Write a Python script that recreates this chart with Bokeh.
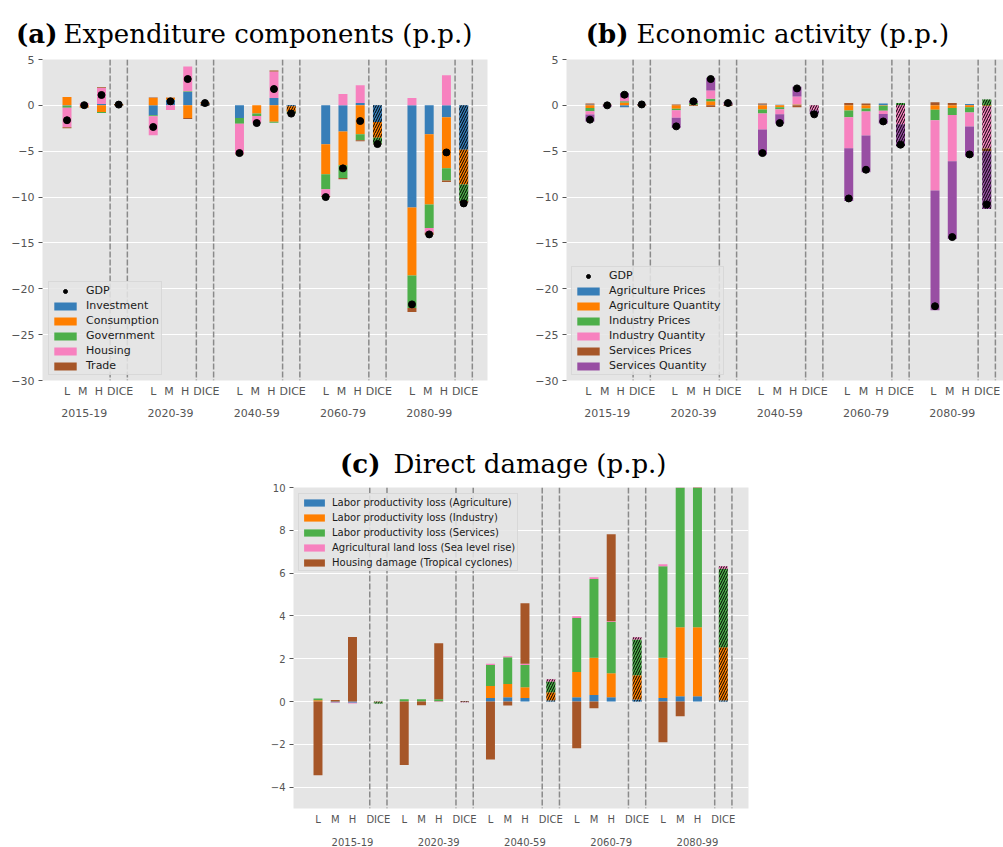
from bokeh.plotting import figure
from bokeh.models import FixedTicker, LinearAxis, Span, Legend, LegendItem, Range1d
from bokeh.core.properties import value
from bokeh.layouts import column, row
from bokeh.embed import file_html
from bokeh.resources import INLINE

# ---------------- data ----------------
periods = ["2015-19", "2020-39", "2040-59", "2060-79", "2080-99"]
scenarios = ["L", "M", "H", "DICE"]
panel_tags = ["(a)", "(b)", "(c)"]
panel_titles = ["Expenditure components (p.p.)", "Economic activity (p.p.)", "Direct damage (p.p.)"]

# (a) Expenditure components, per period: L, M, H, DICE
exp_names = ["Investment", "Consumption", "Government", "Housing", "Trade"]
exp_investment = [-0.05, 0.0, 0.15, 0.05, -1.09, 0.62, 1.45, 0.15, -1.38, 0.0, 0.8, -0.1,
                  -4.25, -2.84, 0.25, -1.82, -11.13, -3.16, -1.31, -4.84]
exp_consumption = [0.9, -0.2, -0.73, 0.1, 0.8, 0.2, -1.38, 0.15, 0.0, -0.9, -1.8, -0.6,
                   -3.27, -3.7, -3.16, -1.71, -7.41, -7.64, -5.56, -3.78]
exp_government = [-0.2, 0.0, -0.1, 0.0, -0.1, 0.0, 0.1, 0.0, -0.62, -0.25, -0.1, -0.2,
                  -1.64, -1.38, -0.65, -0.65, -3.56, -2.58, -1.31, -1.82]
exp_housing = [-2.15, 0.25, 1.75, 0.0, -2.07, -0.5, 2.7, 0.05, -3.27, -0.75, 2.9, 0.0,
               -0.73, 1.24, 1.93, 0.0, 0.8, -0.47, 3.27, 0.0]
exp_trade = [-0.1, -0.05, 0.08, -0.05, 0.07, 0.05, -0.1, -0.05, -0.1, 0.0, 0.1, -0.05,
             -0.1, -0.15, -0.1, -0.05, -0.44, -0.25, -0.18, -0.18]
exp_gdp = [-1.62, 0.02, 1.13, 0.08, -2.36, 0.44, 2.87, 0.25, -5.2, -1.93, 1.78, -0.9,
           -10.0, -6.87, -1.71, -4.22, -21.7, -14.07, -5.13, -10.69]

# (b) Economic activity
act_names = ["Agriculture Prices", "Agriculture Quantity", "Industry Prices",
             "Industry Quantity", "Services Prices", "Services Quantity"]
act_agri_prices = [0.1, 0.0, -0.2, 0.0, 0.0, 0.0, 0.0, 0.0, 0.1, 0.07, 0.07, 0.0,
                   0.05, 0.05, 0.2, 0.0, 0.05, 0.05, 0.15, 0.0]
act_agri_qty = [-0.3, 0.0, 0.3, 0.05, -0.36, 0.07, 0.44, 0.05, -0.44, -0.22, 0.05, 0.0,
                -0.55, -0.33, -0.05, 0.0, -0.47, -0.3, -0.22, -0.1]
act_ind_prices = [-0.33, 0.0, 0.15, 0.0, -0.18, 0.18, 0.29, 0.0, -0.44, -0.2, 0.0, 0.05,
                  -0.76, -0.33, -0.55, 0.25, -1.16, -0.75, -0.55, 0.65]
act_ind_qty = [-0.36, 0.05, 0.4, 0.05, -0.8, 0.0, 0.9, 0.15, -1.75, -0.55, 0.85, -0.55,
               -3.38, -2.62, -0.33, -2.07, -7.64, -5.05, -1.53, -4.6]
act_serv_prices = [0.1, 0.05, 0.0, -0.03, 0.1, -0.07, -0.18, -0.05, 0.1, 0.0, -0.2, 0.0,
                   0.2, 0.15, 0.0, 0.0, 0.3, 0.22, 0.0, -0.3]
act_serv_qty = [-0.76, -0.15, 0.5, 0.03, -1.13, 0.29, 1.38, 0.1, -2.76, -1.0, 1.05, -0.4,
                -5.75, -4.0, -1.05, -2.4, -13.08, -8.47, -3.27, -6.3]
act_gdp = [-1.56, 0.0, 1.16, 0.1, -2.29, 0.44, 2.87, 0.25, -5.2, -1.93, 1.85, -0.98,
           -10.15, -7.02, -1.75, -4.29, -21.9, -14.36, -5.35, -10.8]

# (c) Direct damage
dmg_names = ["Labor productivity loss (Agriculture)", "Labor productivity loss (Industry)",
             "Labor productivity loss (Services)", "Agricultural land loss (Sea level rise)",
             "Housing damage (Tropical cyclones)"]
dmg_lp_agri = [0.0, -0.05, -0.06, -0.01, 0.0, 0.0, 0.0, -0.01, 0.16, 0.2, 0.16, 0.06,
               0.2, 0.3, 0.2, 0.09, 0.16, 0.25, 0.25, 0.06]
dmg_lp_ind = [0.06, 0.0, 0.0, -0.02, 0.0, 0.0, 0.0, 0.0, 0.56, 0.62, 0.51, 0.37,
              1.18, 1.74, 1.12, 1.14, 1.88, 3.22, 3.22, 2.48]
dmg_lp_serv = [0.08, 0.0, 0.0, -0.06, 0.1, 0.1, 0.1, 0.0, 0.98, 1.25, 1.03, 0.51,
               2.52, 3.68, 2.4, 1.67, 4.28, 7.2, 7.0, 3.66]
dmg_land = [0.0, -0.02, -0.03, 0.0, 0.0, 0.0, -0.02, -0.03, 0.06, 0.05, 0.06, 0.1,
            0.08, 0.09, 0.03, 0.1, 0.09, 0.1, 0.1, 0.12]
dmg_housing = [-3.45, 0.07, 3.01, 0.0, -2.97, -0.17, 2.62, 0.02, -2.71, -0.19, 2.83, 0.0,
               -2.18, -0.31, 4.07, 0.0, -1.9, -0.69, 0.0, 0.0]

BLUE, ORANGE, GREEN, PINK, BROWN, PURPLE = "#377EB8", "#FF7F00", "#4DAF4A", "#F781BF", "#A65628", "#984EA3"
BG = "#E5E5E5"
TICK = "#555555"
W = 1003


def minus(t):
    return ("%g" % t).replace("-", "\u2212")


def make_fig(fw, fh, xr, yr, bl, br, bt, bb):
    p = figure(frame_width=fw, frame_height=fh, x_range=Range1d(*xr), y_range=Range1d(*yr),
               output_backend="svg", toolbar_location=None, tools="", frame_align=False)
    p.min_border_left = bl
    p.min_border_right = br
    p.min_border_top = bt
    p.min_border_bottom = bb
    p.background_fill_color = BG
    p.border_fill_color = "white"
    p.outline_line_color = None
    p.xgrid.visible = False
    p.ygrid.grid_line_color = "white"
    p.ygrid.grid_line_width = 1.1
    return p


def style_axes(p, yticks, bar_offsets, label_offsets, year_off, fs, st1, st2):
    xs = [g * 5 + o for g in range(len(periods)) for o in bar_offsets]
    xl = [g * 5 + o for g in range(len(periods)) for o in label_offsets]
    ax = p.xaxis[0]
    ax.ticker = FixedTicker(ticks=xl)
    ax.major_label_overrides = {x: scenarios[i % 4] for i, x in enumerate(xl)}
    ax.axis_line_color = None
    ax.major_tick_line_color = None
    ax.minor_tick_line_color = None
    ax.major_tick_out = 0
    ax.major_tick_in = 0
    ax.major_label_standoff = st1
    ax.major_label_text_font = "DejaVu Sans"
    ax.major_label_text_font_size = fs
    ax.major_label_text_color = TICK

    yx = [g * 5 + year_off for g in range(len(periods))]
    ax2 = LinearAxis(ticker=FixedTicker(ticks=yx),
                     major_label_overrides={x: periods[i] for i, x in enumerate(yx)})
    ax2.axis_line_color = None
    ax2.major_tick_line_color = None
    ax2.minor_tick_line_color = None
    ax2.major_tick_out = 0
    ax2.major_tick_in = 0
    ax2.major_label_standoff = st2
    ax2.major_label_text_font = "DejaVu Sans"
    ax2.major_label_text_font_size = fs
    ax2.major_label_text_color = TICK
    p.add_layout(ax2, "below")

    ay = p.yaxis[0]
    ay.ticker = FixedTicker(ticks=yticks)
    ay.major_label_overrides = {t: minus(t) for t in yticks}
    ay.axis_line_color = None
    ay.minor_tick_line_color = None
    ay.major_tick_line_color = TICK
    ay.major_tick_out = 4
    ay.major_tick_in = 0
    ay.major_label_standoff = 4
    ay.major_label_text_font = "DejaVu Sans"
    ay.major_label_text_font_size = fs
    ay.major_label_text_color = TICK
    p.ygrid.ticker = FixedTicker(ticks=yticks)
    return xs


def add_bars(p, xs, comps, names, colors, width):
    n = len(xs)
    pos = [0.0] * n
    neg = [0.0] * n
    items = []
    for vals, name, col in zip(comps, names, colors):
        bot, top = [], []
        for i, v in enumerate(vals):
            if v >= 0:
                bot.append(pos[i]); top.append(pos[i] + v); pos[i] += v
            else:
                top.append(neg[i]); bot.append(neg[i] + v); neg[i] += v
        plain = [i for i in range(n) if i % 4 != 3]
        dice = [i for i in range(n) if i % 4 == 3]
        r = p.vbar(x=[xs[i] for i in plain], bottom=[bot[i] for i in plain],
                   top=[top[i] for i in plain], width=width, fill_color=col, line_color=None)
        p.vbar(x=[xs[i] for i in dice], bottom=[bot[i] for i in dice],
               top=[top[i] for i in dice], width=width, fill_color=col, line_color=None,
               hatch_pattern="/", hatch_color="black", hatch_scale=5, hatch_weight=1)
        items.append(LegendItem(label=name, renderers=[r]))
    return items


def add_spans(p, offs):
    for g in range(len(periods)):
        for o in offs:
            p.add_layout(Span(location=g * 5 + o, dimension="height", line_color="#8a8a8a",
                              line_width=1.5, line_dash="6 2"))


def add_legend(p, items, loc, fs, gw, gh, standoff, spacing):
    lg = Legend(items=items, location=loc)
    lg.background_fill_color = BG
    lg.background_fill_alpha = 0.85
    lg.border_line_color = "#CCCCCC"
    lg.border_line_width = 1
    lg.label_text_font = "DejaVu Sans"
    lg.label_text_font_size = fs
    lg.label_text_color = "#1a1a1a"
    lg.glyph_width = gw
    lg.glyph_height = gh
    lg.label_height = 12
    lg.spacing = spacing
    lg.padding = 2
    lg.margin = 0
    lg.label_standoff = standoff
    p.add_layout(lg)


def title_fig(h, entries):
    t = figure(frame_width=W, frame_height=h, x_range=Range1d(0, W), y_range=Range1d(h, 0),
               x_axis_location=None, y_axis_location=None, output_backend="svg",
               toolbar_location=None, tools="", min_border=0, frame_align=False)
    t.outline_line_color = None
    t.background_fill_color = "white"
    t.border_fill_color = "white"
    t.xgrid.visible = False
    t.ygrid.visible = False
    for tag, title, x_tag, x_title, y in entries:
        t.text(x=[x_tag], y=[y], text=[tag], text_align="right", text_baseline="alphabetic",
               text_font=value("DejaVu Serif"), text_font_style="bold",
               text_font_size="26px", text_color="black")
        t.text(x=[x_title], y=[y], text=[title], text_align="left", text_baseline="alphabetic",
               text_font=value("DejaVu Serif"), text_font_style="normal",
               text_font_size="26px", text_color="black")
    return t


yt_ab = [5, 0, -5, -10, -15, -20, -25, -30]
yt_c = [10, 8, 6, 4, 2, 0, -2, -4]

# ---- titles
t1 = title_fig(48, [(panel_tags[0], panel_titles[0], 57, 63, 33.5),
                    (panel_tags[1], panel_titles[1], 628, 636, 33.5)])
t2 = title_fig(50, [(panel_tags[2], panel_titles[2], 380, 393, 33)])

# ---- panel (a)
pa = make_fig(445, 321, (-1.42, 24.38), (-30, 5), 42, 16, 11, 50)
xa = style_axes(pa, yt_ab, [0, 1, 2, 3], [0, 0.92, 1.85, 3.08], 1, "11px", 4, 8)
add_spans(pa, [2.5, 3.5])
ia = add_bars(pa, xa, [exp_investment, exp_consumption, exp_government, exp_housing, exp_trade],
              exp_names, [BLUE, ORANGE, GREEN, PINK, BROWN], 0.52)
ga = pa.scatter(xa, exp_gdp, size=7, marker="circle", fill_color="black", line_color="black")
add_legend(pa, [LegendItem(label="GDP", renderers=[ga])] + ia, (6, 5), "11px", 28, 10, 7, 2)

# ---- panel (b)
pb = make_fig(437, 321, (-1.36, 23.97), (-30, 5), 63, 0, 11, 50)
xb = style_axes(pb, yt_ab, [0, 1, 2, 3], [-0.1, 0.85, 1.78, 3.02], 1, "11px", 4, 8)
add_spans(pb, [2.5, 3.5])
ib = add_bars(pb, xb, [act_agri_prices, act_agri_qty, act_ind_prices, act_ind_qty,
                       act_serv_prices, act_serv_qty],
              act_names, [BLUE, ORANGE, GREEN, PINK, BROWN, PURPLE], 0.52)
gb = pb.scatter(xb, act_gdp, size=7, marker="circle", fill_color="black", line_color="black")
add_legend(pb, [LegendItem(label="GDP", renderers=[gb])] + ib, (5, 5), "11px", 28, 10, 7, 2)

# ---- panel (c)
pc = make_fig(455, 321, (-1.42, 24.96), (-5, 10), 293, 255, 7, 39)
xc = style_axes(pc, yt_c, [0, 1, 2, 3.5], [0, 1, 2, 3.5], 2, "10px", 5, 10)
add_spans(pc, [3, 4])
ic = add_bars(pc, xc, [dmg_lp_agri, dmg_lp_ind, dmg_lp_serv, dmg_land, dmg_housing],
              dmg_names, [BLUE, ORANGE, GREEN, PINK, BROWN], 0.52)
add_legend(pc, ic, (5, 237), "10px", 26, 9, 5, 3)

layout = column(t1, row(pa, pb, spacing=0), t2, pc, spacing=0)
open("out.html", "w").write(file_html(layout, INLINE))
